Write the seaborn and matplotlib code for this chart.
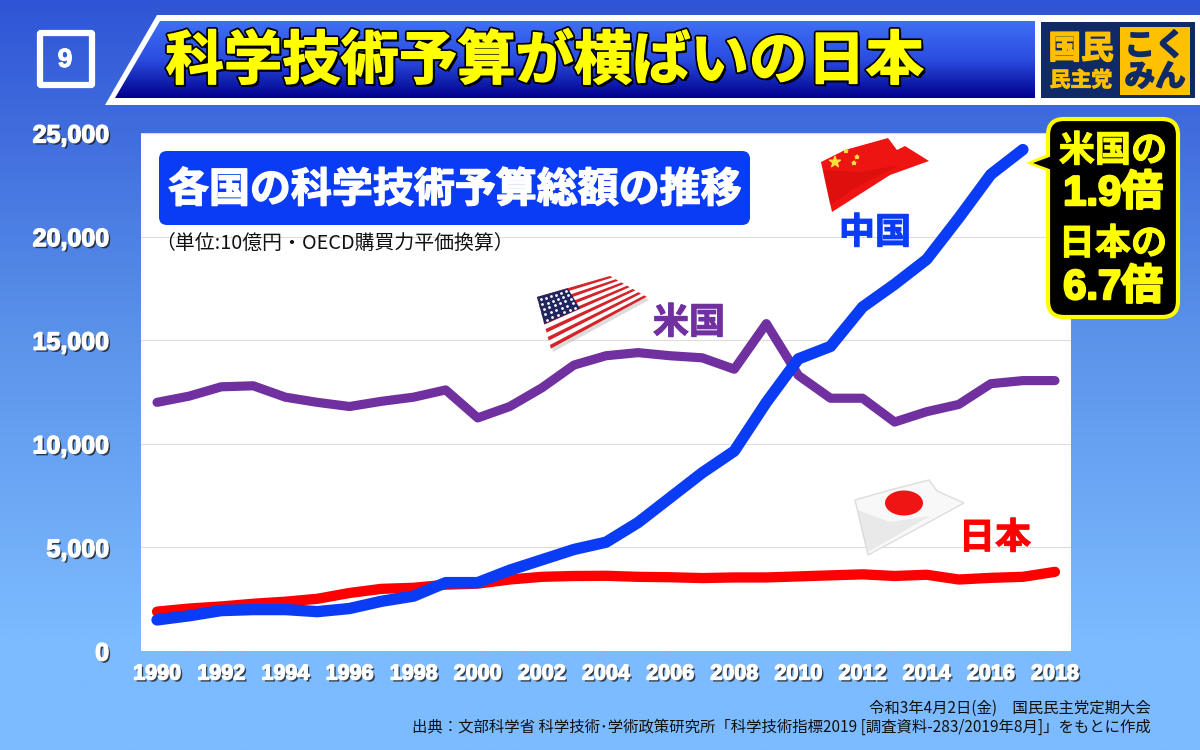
import numpy as np
import pandas as pd
import matplotlib.pyplot as plt
import matplotlib.patheffects as pe
from matplotlib.colors import LinearSegmentedColormap
from matplotlib.patches import Polygon, FancyBboxPatch, Ellipse, Rectangle
import seaborn as sns

years = list(range(1990, 2019))
usa = [12000, 12300, 12750, 12800, 12250, 12000, 11800, 12050, 12250, 12600,
       11250, 11800, 12700, 13800, 14250, 14400, 14250, 14150, 13600, 15800,
       13300, 12200, 12200, 11050, 11550, 11900, 12900, 13050, 13050]
japan = [1900, 2050, 2150, 2280, 2380, 2520, 2800, 3000, 3050, 3200,
         3250, 3450, 3580, 3620, 3630, 3580, 3560, 3520, 3550, 3550,
         3600, 3650, 3700, 3620, 3680, 3450, 3530, 3580, 3820]
china = [1500, 1700, 1950, 2000, 2000, 1900, 2050, 2400, 2650, 3300,
         3300, 3900, 4400, 4900, 5250, 6200, 7400, 8600, 9650, 12000,
         14100, 14700, 16600, 17700, 18900, 20900, 23000, 24200, None]
y_ticks = [0, 5000, 10000, 15000, 20000, 25000]
x_ticks = years[::2]

title = "科学技術予算が横ばいの日本"
subtitle = "各国の科学技術予算総額の推移"
unit = "（単位:10億円・OECD購買力平価換算）"
source1 = "令和3年4月2日(金)　国民民主党定期大会"
source2 = "出典：文部科学省 科学技術･学術政策研究所「科学技術指標2019 [調査資料-283/2019年8月]」をもとに作成"

sns.set_theme(style="white")
plt.rcParams["font.family"] = ["Noto Sans CJK JP", "DejaVu Sans"]

fig = plt.figure(figsize=(12, 7.5), dpi=100)

# background gradient
bg = fig.add_axes([0, 0, 1, 1], zorder=-1)
grad = np.linspace(0, 1, 256).reshape(-1, 1)
bg.imshow(grad, aspect="auto", cmap=LinearSegmentedColormap.from_list(
    "bg", [(0, "#2f55d6"), (0.45, "#5b93ea"), (0.85, "#7cbbff"), (1, "#7cbbff")]))
bg.axis("off")

# main chart
ax = fig.add_axes([141 / 1200, 1 - 651 / 750, 930 / 1200, 518 / 750], zorder=1)
df = pd.DataFrame({"year": years * 3,
                   "value": usa + japan + china,
                   "country": ["米国"] * 29 + ["日本"] * 29 + ["中国"] * 29})
df = df.dropna()
sns.lineplot(data=df, x="year", y="value", hue="country",
             hue_order=["米国", "日本", "中国"],
             palette={"米国": "#7030a0", "日本": "#ff0000", "中国": "#0a3cf5"},
             size="country", sizes={"米国": 6.6, "日本": 7.4, "中国": 8.2},
             legend=False, ax=ax, estimator=None)
for ln in ax.get_lines():
    ln.set_solid_capstyle("round")
    ln.set_solid_joinstyle("round")
ax.set_xlim(1989.5, 2018.5)
ax.set_ylim(0, 25000)
ax.set_facecolor("white")
ax.set_xlabel("")
ax.set_ylabel("")
ax.set_yticks(y_ticks)
ax.set_yticklabels([f"{v:,}" for v in y_ticks])
ax.set_xticks(x_ticks)
ax.yaxis.grid(True, color="#dcdcdc", lw=0.8)
ax.set_axisbelow(True)
sns.despine(ax=ax, left=True, bottom=True, top=True, right=True)
shadow = [pe.SimplePatchShadow(offset=(1.5, -1.5), shadow_rgbFace="#222222", alpha=0.8),
          pe.withStroke(linewidth=1, foreground="white")]
ax.tick_params(axis="both", length=0)
ax.tick_params(axis="y", pad=23)
ax.tick_params(axis="x", pad=9)
for t in ax.get_yticklabels():
    t.set(family="Liberation Sans", weight="bold", size=18, color="white", path_effects=shadow)
for t in ax.get_xticklabels():
    t.set(family="Liberation Sans", weight="bold", size=15.5, color="white", path_effects=shadow)

# everything decorative goes on a pixel overlay
ov = fig.add_axes([0, 0, 1, 1], zorder=2)
ov.patch.set_alpha(0)


def gradient_poly(points, colors, y0, y1):
    cm = LinearSegmentedColormap.from_list("g", colors)
    xs = [p[0] for p in points]
    im = ov.imshow(grad, aspect="auto", cmap=cm, extent=(min(xs), max(xs), y1, y0), zorder=2)
    im.set_clip_path(Polygon(points, transform=ov.transData))


def label(x, y, s, color, size, **kw):
    sw = kw.pop("sw", 0.7)
    return ov.text(x, y, s, color=color, fontsize=size, weight="bold", ha="center", va="center",
                   path_effects=[pe.withStroke(linewidth=sw, foreground=color)], **kw)


# slide number
ov.add_patch(FancyBboxPatch((40, 33), 52, 52, boxstyle="round,pad=0,rounding_size=1",
                            fc="none", ec="white", lw=4.5))
label(65, 60, "9", "white", 19, family="Liberation Sans")

# title banner
ov.add_patch(Polygon([(157, 15), (1200, 15), (1200, 105), (105, 105)], fc="white", ec="none", zorder=1))
gradient_poly([(160, 21), (1035, 21), (1035, 98), (115, 98)], ["#3f6ff5", "#2a4de0", "#00008c"], 21, 98)
ov.text(545, 62, title, color="#ffff00", fontsize=42, weight="bold", ha="center", va="center", zorder=3,
        path_effects=[pe.SimplePatchShadow(offset=(2, -2), shadow_rgbFace="black", alpha=1),
                      pe.withStroke(linewidth=3.5, foreground="black"),
                      pe.withStroke(linewidth=1, foreground="#ffff00")])

# logo
ov.add_patch(Rectangle((1041, 22), 154, 76, fc="#0f2a66", ec="none", zorder=3))
ov.add_patch(Rectangle((1120, 27), 70, 68, fc="#ffc000", ec="none", zorder=4))
label(1081, 49, "国民", "#ffc000", 23.5, sw=1, zorder=4)
label(1081, 80, "民主党", "#ffc000", 15, sw=0.6, zorder=4)
label(1155, 46, "こく", "#0f2a66", 22, sw=1.2, zorder=5)
label(1155, 77, "みん", "#0f2a66", 22, sw=1.2, zorder=5)

# subtitle
ov.add_patch(FancyBboxPatch((159, 151), 591, 74, boxstyle="round,pad=0,rounding_size=8",
                            fc="#0a3cf5", ec="none"))
label(455, 190, subtitle, "white", 29.5, sw=1)
ov.text(335, 243, unit, color="#111111", fontsize=14.3, ha="center", va="center")

# country labels
label(875, 233, "中国", "#0a3cf5", 26)
label(689, 323, "米国", "#7030a0", 26)
label(995, 538, "日本", "#ff0000", 26)


def flag_point(q, u, v):
    tl, tr, br, bl = [np.array(p, float) for p in q]
    return (1 - v) * ((1 - u) * tl + u * tr) + v * ((1 - u) * bl + u * br)


# china flag
ov.add_patch(Polygon([(821, 162), (845, 150), (888, 138), (897, 150), (905, 146), (929, 161),
                      (890, 175), (832, 212), (826, 185)], fc="#ee1411", ec="none"))
ov.add_patch(Polygon([(823, 170), (860, 172), (900, 165), (860, 185), (830, 205)],
                     fc="#b80808", ec="none", alpha=0.3))
ov.scatter([835, 846, 857, 854], [162, 151, 157, 163], s=[70, 8, 8, 8], marker="*", color="#ffdf3a", zorder=4)

# us flag
us_q = [(537, 297), (610, 276), (647, 297), (551, 349)]
ov.add_patch(Polygon([(p[0] + 2, p[1] + 3) for p in us_q], fc="#bbbbbb", ec="none", alpha=0.5))
ov.add_patch(Polygon(us_q, fc="white", ec="none"))
for i in range(0, 13, 2):
    v0, v1 = i / 13, (i + 0.9) / 13
    ov.add_patch(Polygon([flag_point(us_q, 0, v0), flag_point(us_q, 1, v0),
                          flag_point(us_q, 1, v1), flag_point(us_q, 0, v1)], fc="#d5232a", ec="none"))
ov.add_patch(Polygon([flag_point(us_q, 0, 0), flag_point(us_q, 0.42, 0),
                      flag_point(us_q, 0.42, 0.52), flag_point(us_q, 0, 0.52)], fc="#22265f", ec="none"))
star_u = np.tile(np.linspace(0.04, 0.38, 6), 5)
star_v = np.repeat(np.linspace(0.06, 0.46, 5), 6)
stars = np.array([flag_point(us_q, a, b) for a, b in zip(star_u, star_v)])
ov.scatter(stars[:, 0], stars[:, 1], s=4, color="white", zorder=4, linewidths=0)

# japan flag
ov.add_patch(Polygon([(855, 500), (890, 490), (929, 480), (937, 491), (964, 503), (920, 527), (868, 555)],
                     fc="#f8f8f8", ec="#dddddd", lw=1))
ov.add_patch(Polygon([(858, 510), (890, 522), (930, 516), (868, 552), (862, 530)], fc="#cfcfcf", ec="none", alpha=0.35))
ov.add_patch(Ellipse((904, 503), 38, 25, fc="#f01515", ec="none"))

# callout
ov.add_patch(Polygon([(1026, 163), (1052, 152), (1052, 173)], fc="#ffff00", ec="none"))
ov.add_patch(FancyBboxPatch((1048, 119), 130, 198, boxstyle="round,pad=0,rounding_size=16",
                            fc="black", ec="#ffff00", lw=3))
ov.add_patch(Polygon([(1033, 163), (1052, 156), (1052, 170)], fc="black", ec="none"))
label(1113, 151, "米国の", "#ffff00", 26)
label(1113, 194, "1.9倍", "#ffff00", 30, sw=1.8, family=["Liberation Sans", "Noto Sans CJK JP"])
label(1113, 244, "日本の", "#ffff00", 26)
label(1113, 288, "6.7倍", "#ffff00", 30, sw=1.8, family=["Liberation Sans", "Noto Sans CJK JP"])

# source
ov.text(1151, 708, source1, color="#111111", fontsize=11.1, ha="right", va="center")
ov.text(1151, 727, source2, color="#111111", fontsize=11.1, ha="right", va="center")

ov.set_xlim(0, 1200)
ov.set_ylim(750, 0)
ov.axis("off")

plt.savefig("out.png", dpi=100)
